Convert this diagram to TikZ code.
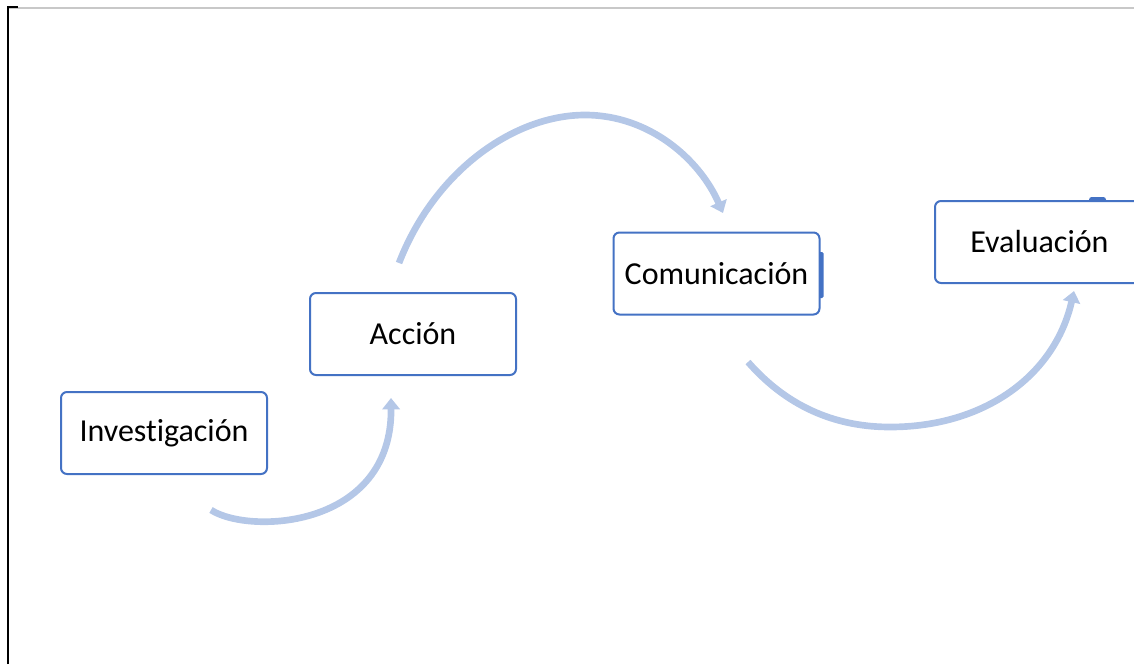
\documentclass[tikz,border=0pt]{standalone}
\usepackage{fontspec}
\setmainfont[Ligatures=NoCommon]{Carlito}
\usetikzlibrary{arrows.meta}
\definecolor{boxblue}{HTML}{4472C4}
\definecolor{arrblue}{HTML}{B4C7E7}
\definecolor{framegray}{HTML}{C8C8C8}
\tikzset{
  stepbox/.style={draw=boxblue, line width=1.5pt, rounded corners=4.5pt, fill=white,
    minimum width=154.5pt, minimum height=61.5pt, inner sep=0pt,
    font=\fontsize{24}{28}\selectfont, text=black},
  flow/.style={draw=arrblue, line width=5pt,
    -{Triangle[width=13pt,length=8.5pt]}},
}
\begin{document}
\begin{tikzpicture}[x=0.75pt,y=-0.75pt]
\useasboundingbox (0,0) rectangle (1134,664);
\clip (0,0) rectangle (1134,664);
% frame
\draw[framegray, line width=0.9pt] (8,8) -- (1134,8);
\draw[black, line width=2.2pt] (8,664) -- (8,7) -- (18,7);
% boxes
\node[stepbox] (inv) at (164,433) {Investigación};
\node[stepbox] (acc) at (413,334) {Acción};
\fill[boxblue, rounded corners=1pt] (817,252) rectangle (823.5,298);
\node[stepbox] (com) at (716.5,273.5) {Comunicación};
\fill[boxblue, rounded corners=2pt] (1089,197) rectangle (1106,203);
\node[stepbox, minimum width=165pt, text width=137pt, align=left] (eva) at (1045,242) {\hspace*{12.5pt}Evaluación};
% arrow end points
\coordinate (a1s) at (211,510);
\coordinate (a1e) at (391,398);
\coordinate (a2s) at (399,263);
\coordinate (a2m) at (585,115);
\coordinate (a2e) at (723,213);
\coordinate (a3s) at (748,362);
\coordinate (a3m) at (890,427);
\coordinate (a3e) at (1074,291);
% arrows
\draw[flow] (a1s) .. controls (250,535) and (392,528) .. (a1e);
\draw[flow] (a2s) .. controls (435,170) and (515,115) .. (a2m) .. controls (650,115) and (700,160) .. (a2e);
\draw[flow] (a3s) .. controls (790,410) and (840,427) .. (a3m) .. controls (985,427) and (1055,375) .. (a3e);
\end{tikzpicture}
\end{document}
